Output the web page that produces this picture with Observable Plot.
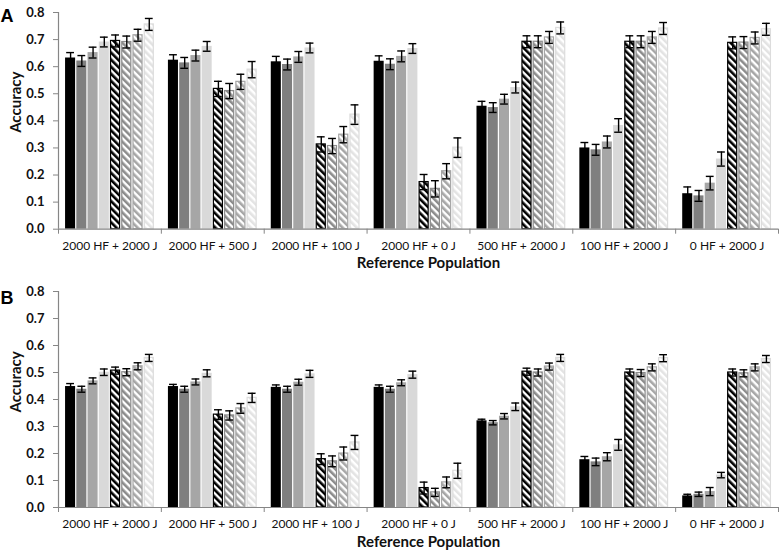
<!DOCTYPE html>
<html><head><meta charset="utf-8">
<script src="https://cdn.jsdelivr.net/npm/d3@7"></script>
<script src="https://cdn.jsdelivr.net/npm/@observablehq/plot@0.6"></script>
<style>
body{margin:0;background:#fff;}
#chart{width:779px;height:553px;position:relative;overflow:hidden;}
#chart svg{display:block;}
</style>
</head><body><div id="chart"></div>
<script>
const groups = ["2000 HF + 2000 J","2000 HF + 500 J","2000 HF + 100 J","2000 HF + 0 J","500 HF + 2000 J","100 HF + 2000 J","0 HF + 2000 J"];
const series = ["solid 1","solid 2","solid 3","solid 4","hatched 1","hatched 2","hatched 3","hatched 4"];
const yTicks = [0,0.1,0.2,0.3,0.4,0.5,0.6,0.7,0.8];
const xTitle = "Reference Population";
const yTitle = "Accuracy";

const accuracyA = [
  [0.632,0.621,0.652,0.691,0.695,0.691,0.716,0.756],
  [0.624,0.614,0.641,0.675,0.518,0.510,0.544,0.589],
  [0.618,0.608,0.636,0.669,0.313,0.307,0.349,0.423],
  [0.620,0.609,0.638,0.667,0.174,0.149,0.214,0.301],
  [0.454,0.449,0.480,0.523,0.692,0.692,0.708,0.743],
  [0.300,0.293,0.322,0.383,0.692,0.692,0.708,0.741],
  [0.131,0.123,0.170,0.259,0.688,0.689,0.706,0.738]
];
const errorA = [
  [0.020,0.020,0.020,0.018,0.022,0.022,0.022,0.022],
  [0.020,0.020,0.020,0.018,0.028,0.028,0.028,0.030],
  [0.020,0.020,0.020,0.018,0.028,0.028,0.030,0.036],
  [0.020,0.020,0.020,0.018,0.028,0.030,0.028,0.036],
  [0.018,0.018,0.018,0.020,0.022,0.022,0.022,0.022],
  [0.020,0.020,0.022,0.025,0.022,0.022,0.022,0.022],
  [0.025,0.020,0.025,0.026,0.022,0.022,0.022,0.022]
];
const accuracyB = [
  [0.448,0.438,0.469,0.501,0.507,0.501,0.523,0.554],
  [0.448,0.438,0.465,0.497,0.344,0.341,0.367,0.406],
  [0.445,0.438,0.464,0.495,0.179,0.171,0.200,0.241],
  [0.445,0.438,0.462,0.492,0.072,0.056,0.093,0.136],
  [0.321,0.314,0.338,0.373,0.503,0.500,0.522,0.554],
  [0.177,0.169,0.188,0.232,0.500,0.498,0.519,0.553],
  [0.043,0.049,0.059,0.120,0.500,0.497,0.519,0.550]
];
const errorB = [
  [0.011,0.011,0.011,0.012,0.013,0.013,0.013,0.013],
  [0.008,0.011,0.011,0.013,0.018,0.017,0.018,0.017],
  [0.009,0.011,0.011,0.013,0.020,0.020,0.024,0.026],
  [0.009,0.011,0.011,0.013,0.022,0.015,0.020,0.028],
  [0.006,0.008,0.010,0.014,0.013,0.013,0.013,0.013],
  [0.012,0.014,0.015,0.020,0.013,0.013,0.013,0.013],
  [0.006,0.008,0.015,0.010,0.013,0.013,0.013,0.013]
];

const colors = ["#000000","#7f7f7f","#a6a6a6","#d9d9d9"];
const hatchColors = ["#000000","#8c8c8c","#a6a6a6","#e3e3e3"];
const hatchStroke = ["#000000","#8c8c8c","#a6a6a6","#dcdcdc"];
const FONT = "Lato, 'Open Sans', sans-serif";
const AXIS = "#868686";

const inner = d3.scaleBand().domain(series).range([0,1]).paddingInner(0).paddingOuter(0.575);

function rows(acc, err){
  const out=[];
  groups.forEach((g,gi)=>series.forEach((s,si)=>{
    const x1 = gi + inner(s);
    out.push({group:g, gi, series:s, si, value:acc[gi][si], err:err[gi][si], x1, x2:x1+inner.bandwidth(), xc:x1+inner.bandwidth()/2});
  }));
  return out;
}

function addPatterns(svg, prefix){
  const ns="http://www.w3.org/2000/svg";
  const defs=document.createElementNS(ns,"defs");
  hatchColors.forEach((c,k)=>{
    const p=document.createElementNS(ns,"pattern");
    p.setAttribute("id",prefix+k);
    p.setAttribute("patternUnits","userSpaceOnUse");
    p.setAttribute("width","5"); p.setAttribute("height","5");
    p.setAttribute("patternTransform","rotate(-45)");
    const bg=document.createElementNS(ns,"rect");
    bg.setAttribute("width","5"); bg.setAttribute("height","5"); bg.setAttribute("fill","#ffffff");
    const st=document.createElementNS(ns,"rect");
    st.setAttribute("width","2.6"); st.setAttribute("height","5"); st.setAttribute("fill",c);
    p.appendChild(bg); p.appendChild(st); defs.appendChild(p);
  });
  svg.insertBefore(defs, svg.firstChild);
}

function panel(acc, err, letter, prefix, height, mt, mb, titleDy){
  const data = rows(acc, err);
  const solid = data.filter(d=>d.si<4);
  const hatched = data.filter(d=>d.si>=4);
  const cap = 0.038;
  const svg = Plot.plot({
    width: 779, height, marginLeft: 58, marginRight: 1, marginTop: mt, marginBottom: mb,
    style: {fontFamily: FONT, background: "#fff", overflow: "visible"},
    x: {type: "linear", domain: [0, groups.length]},
    y: {domain: [0, 0.8]},
    marks: [
      Plot.rectY(solid, {x1:"x1", x2:"x2", y:"value", fill: d=>colors[d.si], insetLeft:0.6, insetRight:0.6}),
      Plot.rectY(hatched, {x1:"x1", x2:"x2", y:"value", fill: d=>`url(#${prefix}${d.si-4})`, stroke: d=>hatchStroke[d.si-4], strokeWidth:1.2, insetLeft:1.1, insetRight:1.1}),
      Plot.ruleX(data, {x:"xc", y1: d=>d.value-d.err, y2: d=>d.value+d.err, stroke:"#000", strokeWidth:1.4}),
      Plot.ruleY(data, {x1: d=>d.xc-cap, x2: d=>d.xc+cap, y: d=>d.value+d.err, stroke:"#000", strokeWidth:1.4}),
      Plot.ruleY(data, {x1: d=>d.xc-cap, x2: d=>d.xc+cap, y: d=>d.value-d.err, stroke:"#000", strokeWidth:1.4}),
      Plot.ruleY([0], {stroke: AXIS, strokeWidth:1.2}),
      Plot.ruleX([0], {y1:0, y2:0.8, stroke: AXIS, strokeWidth:1.2}),
      Plot.axisY(yTicks, {tickSize:5, tickPadding:9, stroke: AXIS, fill:"#111", tickFormat: d3.format(".1f"), fontSize:13, fontWeight:"bold", label:null}),
      Plot.axisX(d3.range(groups.length+1), {tickSize:5, stroke: AXIS, tickFormat: ()=>"", label:null}),
      Plot.axisX(groups.map((g,i)=>i+0.5), {tickSize:0, tickPadding:12, fill:"#111", tickFormat: v=>groups[Math.floor(v)], fontSize:12, label:null}),
      Plot.text([xTitle], {frameAnchor:"bottom", text:d=>d, dy:39, dx:10, fontSize:15, fontWeight:"bold", fill:"#111"}),
      Plot.text([yTitle], {frameAnchor:"left", text:d=>d, rotate:-90, dx:-42, dy:titleDy, fontSize:15, fontWeight:"bold", fill:"#111"}),
      Plot.text([letter], {frameAnchor:"top-left", text:d=>d, textAnchor:"start", dx:-58, dy: letter==="A"?-3:0, fontSize:18, fontWeight:"bold", fontFamily:"'Liberation Sans', Arial, sans-serif", fill:"#000"})
    ]
  });
  addPatterns(svg, prefix);
  return svg;
}

const root = document.getElementById("chart");
root.appendChild(panel(accuracyA, errorA, "A", "hA", 277, 12, 48.3, 12));
root.appendChild(panel(accuracyB, errorB, "B", "hB", 276, 14, 46, 13));
</script>
</body></html>
